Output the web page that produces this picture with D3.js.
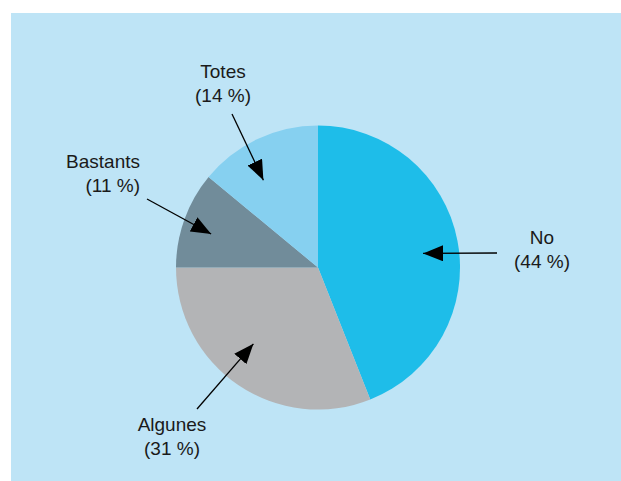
<!DOCTYPE html>
<html>
<head>
<meta charset="utf-8">
<script src="https://cdn.jsdelivr.net/npm/d3@7"></script>
<style>
  html, body { margin: 0; padding: 0; background: #ffffff; }
  svg { display: block; }
  text { font-family: "Liberation Sans", Arial, sans-serif; font-size: 19px; fill: #1a1a1a; }
</style>
</head>
<body>
<svg id="chart" width="621" height="481"></svg>
<script>
// Slice data, in drawing order (clockwise from 12 o'clock)
const categories = ["No", "Algunes", "Bastants", "Totes"];
const shares = [44, 31, 11, 14];
const percentLabels = ["(44 %)", "(31 %)", "(11 %)", "(14 %)"];
const sliceColors = ["#1ebde9", "#b3b4b6", "#718c9a", "#86d0f0"];

// Callout layout: text anchor point and arrow start, plus arrow tip as (angle fraction of slice, radius)
const callouts = [
  { tx: 542, ty: 244, anchor: "middle", x1: 497, y1: 253, tipT: 0.52,  tipR: 106 },
  { tx: 172, ty: 431, anchor: "middle", x1: 197, y1: 409, tipT: 0.554, tipR: 100 },
  { tx: 140, ty: 168, anchor: "end",    x1: 147, y1: 199, tipT: 0.44,  tipR: 112 },
  { tx: 223, ty: 78,  anchor: "middle", x1: 232, y1: 114, tipT: 0.365, tipR: 103 }
];

const W = 621, H = 481;
const cx = 318, cy = 267.5, radius = 142;

const svg = d3.select("#chart");

svg.append("rect")
  .attr("x", 11).attr("y", 13)
  .attr("width", W - 11).attr("height", H - 13)
  .attr("fill", "#bee4f6");

const color = d3.scaleOrdinal().domain(categories).range(sliceColors);

const pie = d3.pie().sort(null).value(d => d.value);
const arcs = pie(categories.map((c, i) => ({ name: c, value: shares[i], label: percentLabels[i] })));

const arc = d3.arc().innerRadius(0).outerRadius(radius);

const g = svg.append("g").attr("transform", `translate(${cx},${cy})`);

g.selectAll("path.slice")
  .data(arcs)
  .join("path")
  .attr("class", "slice")
  .attr("d", arc)
  .attr("fill", d => color(d.data.name));

// Arrowhead marker
svg.append("defs").append("marker")
  .attr("id", "arrow")
  .attr("viewBox", "0 0 20 16")
  .attr("refX", 20).attr("refY", 8)
  .attr("markerWidth", 20).attr("markerHeight", 16)
  .attr("markerUnits", "userSpaceOnUse")
  .attr("orient", "auto")
  .append("path")
  .attr("d", "M0,0 L20,8 L0,16 Z")
  .attr("fill", "#000");

arcs.forEach((a, i) => {
  const c = callouts[i];
  const ang = a.startAngle + (a.endAngle - a.startAngle) * c.tipT;
  const tx = cx + c.tipR * Math.sin(ang);
  const ty = cy - c.tipR * Math.cos(ang);

  svg.append("line")
    .attr("x1", c.x1).attr("y1", c.y1)
    .attr("x2", tx).attr("y2", ty)
    .attr("stroke", "#000")
    .attr("stroke-width", 1.3)
    .attr("marker-end", "url(#arrow)");

  const t = svg.append("text")
    .attr("x", c.tx).attr("y", c.ty)
    .attr("text-anchor", c.anchor);
  t.append("tspan").attr("x", c.tx).text(a.data.name);
  t.append("tspan").attr("x", c.tx).attr("dy", 24).text(a.data.label);
});
</script>
</body>
</html>
